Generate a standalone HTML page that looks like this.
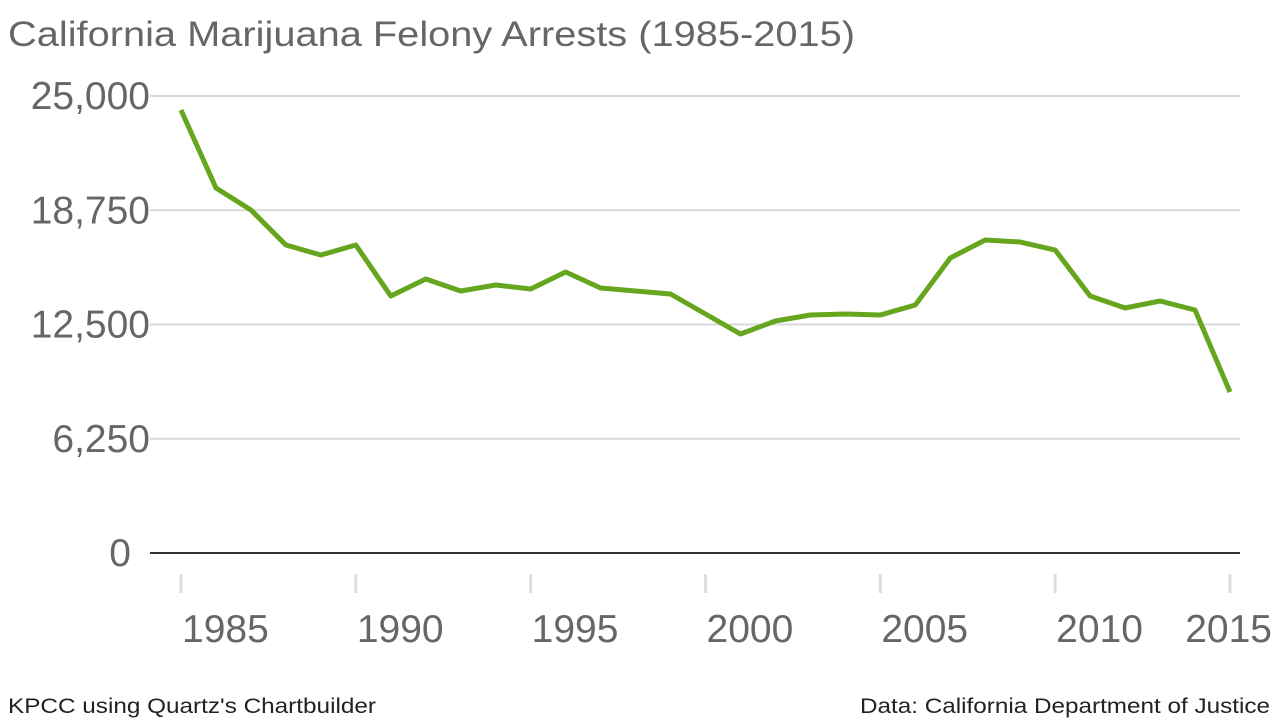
<!DOCTYPE html>
<html><head><meta charset="utf-8"><style>
body{margin:0;width:1280px;height:720px;background:#fff;overflow:hidden;font-family:"Liberation Sans",sans-serif}
</style></head><body>
<svg width="1280" height="720" font-family="Liberation Sans, sans-serif">
<text x="8" y="46" font-size="35" fill="#666" textLength="847" lengthAdjust="spacingAndGlyphs">California Marijuana Felony Arrests (1985-2015)</text>
<g id="grid"></g><g id="xticks"></g>
<polyline id="line" fill="none" stroke="#65a61e" stroke-width="5" stroke-linejoin="round"/>
<text x="8" y="713" font-size="21" fill="#222" textLength="368" lengthAdjust="spacingAndGlyphs">KPCC using Quartz's Chartbuilder</text>
<text x="1270" y="713" font-size="21" fill="#222" text-anchor="end" textLength="410" lengthAdjust="spacingAndGlyphs">Data: California Department of Justice</text>
</svg>
<script>
const years=[1985,1986,1987,1988,1989,1990,1991,1992,1993,1994,1995,1996,1997,1998,1999,2000,2001,2002,2003,2004,2005,2006,2007,2008,2009,2010,2011,2012,2013,2014,2015];
const arrests=[24234,19967,18764,16849,16302,16849,14059,14989,14333,14661,14442,15372,14497,14333,14168,13074,11980,12691,13020,13074,13020,13567,16138,17122,17013,16575,14059,13403,13786,13293,8807];
const yTicks=[0,6250,12500,18750,25000];
const yTickLabels=["0","6,250","12,500","18,750","25,000"];
const xTicks=[1985,1990,1995,2000,2005,2010,2015];
const ns="http://www.w3.org/2000/svg";
const x=v=>181+(v-1985)*(1230-181)/30;
const y=v=>553-v*(553-96)/25000;
const grid=document.getElementById('grid'),xt=document.getElementById('xticks');
yTicks.forEach((t,i)=>{
 const l=document.createElementNS(ns,'line');
 l.setAttribute('x1',150);l.setAttribute('x2',1240);l.setAttribute('y1',y(t));l.setAttribute('y2',y(t));
 l.setAttribute('stroke',t===0?'#333':'#d9d9d9');l.setAttribute('stroke-width',2);
 
 
 grid.appendChild(l);
 const tx=document.createElementNS(ns,'text');
 tx.setAttribute('x',t===0?131:150);tx.setAttribute('y',y(t)+13);tx.setAttribute('text-anchor','end');
 tx.setAttribute('font-size','39');tx.setAttribute('fill','#666');tx.textContent=yTickLabels[i];
 
 
 grid.appendChild(tx);
});
xTicks.forEach(t=>{
 const l=document.createElementNS(ns,'line');
 l.setAttribute('x1',x(t));l.setAttribute('x2',x(t));l.setAttribute('y1',574);l.setAttribute('y2',593);
 l.setAttribute('stroke','#ddd');l.setAttribute('stroke-width',3);
 
 
 xt.appendChild(l);
 const tx=document.createElementNS(ns,'text');
 const last=t===2015;
 tx.setAttribute('x',last?1272:x(t)+1);tx.setAttribute('y',642);
 tx.setAttribute('text-anchor',last?'end':'start');
 tx.setAttribute('font-size','39');tx.setAttribute('fill','#666');tx.textContent=t;
 
 
 xt.appendChild(tx);
});
document.getElementById('line').setAttribute('points',years.map((yr,i)=>x(yr)+','+y(arrests[i])).join(' '));
</script>
</body></html>
